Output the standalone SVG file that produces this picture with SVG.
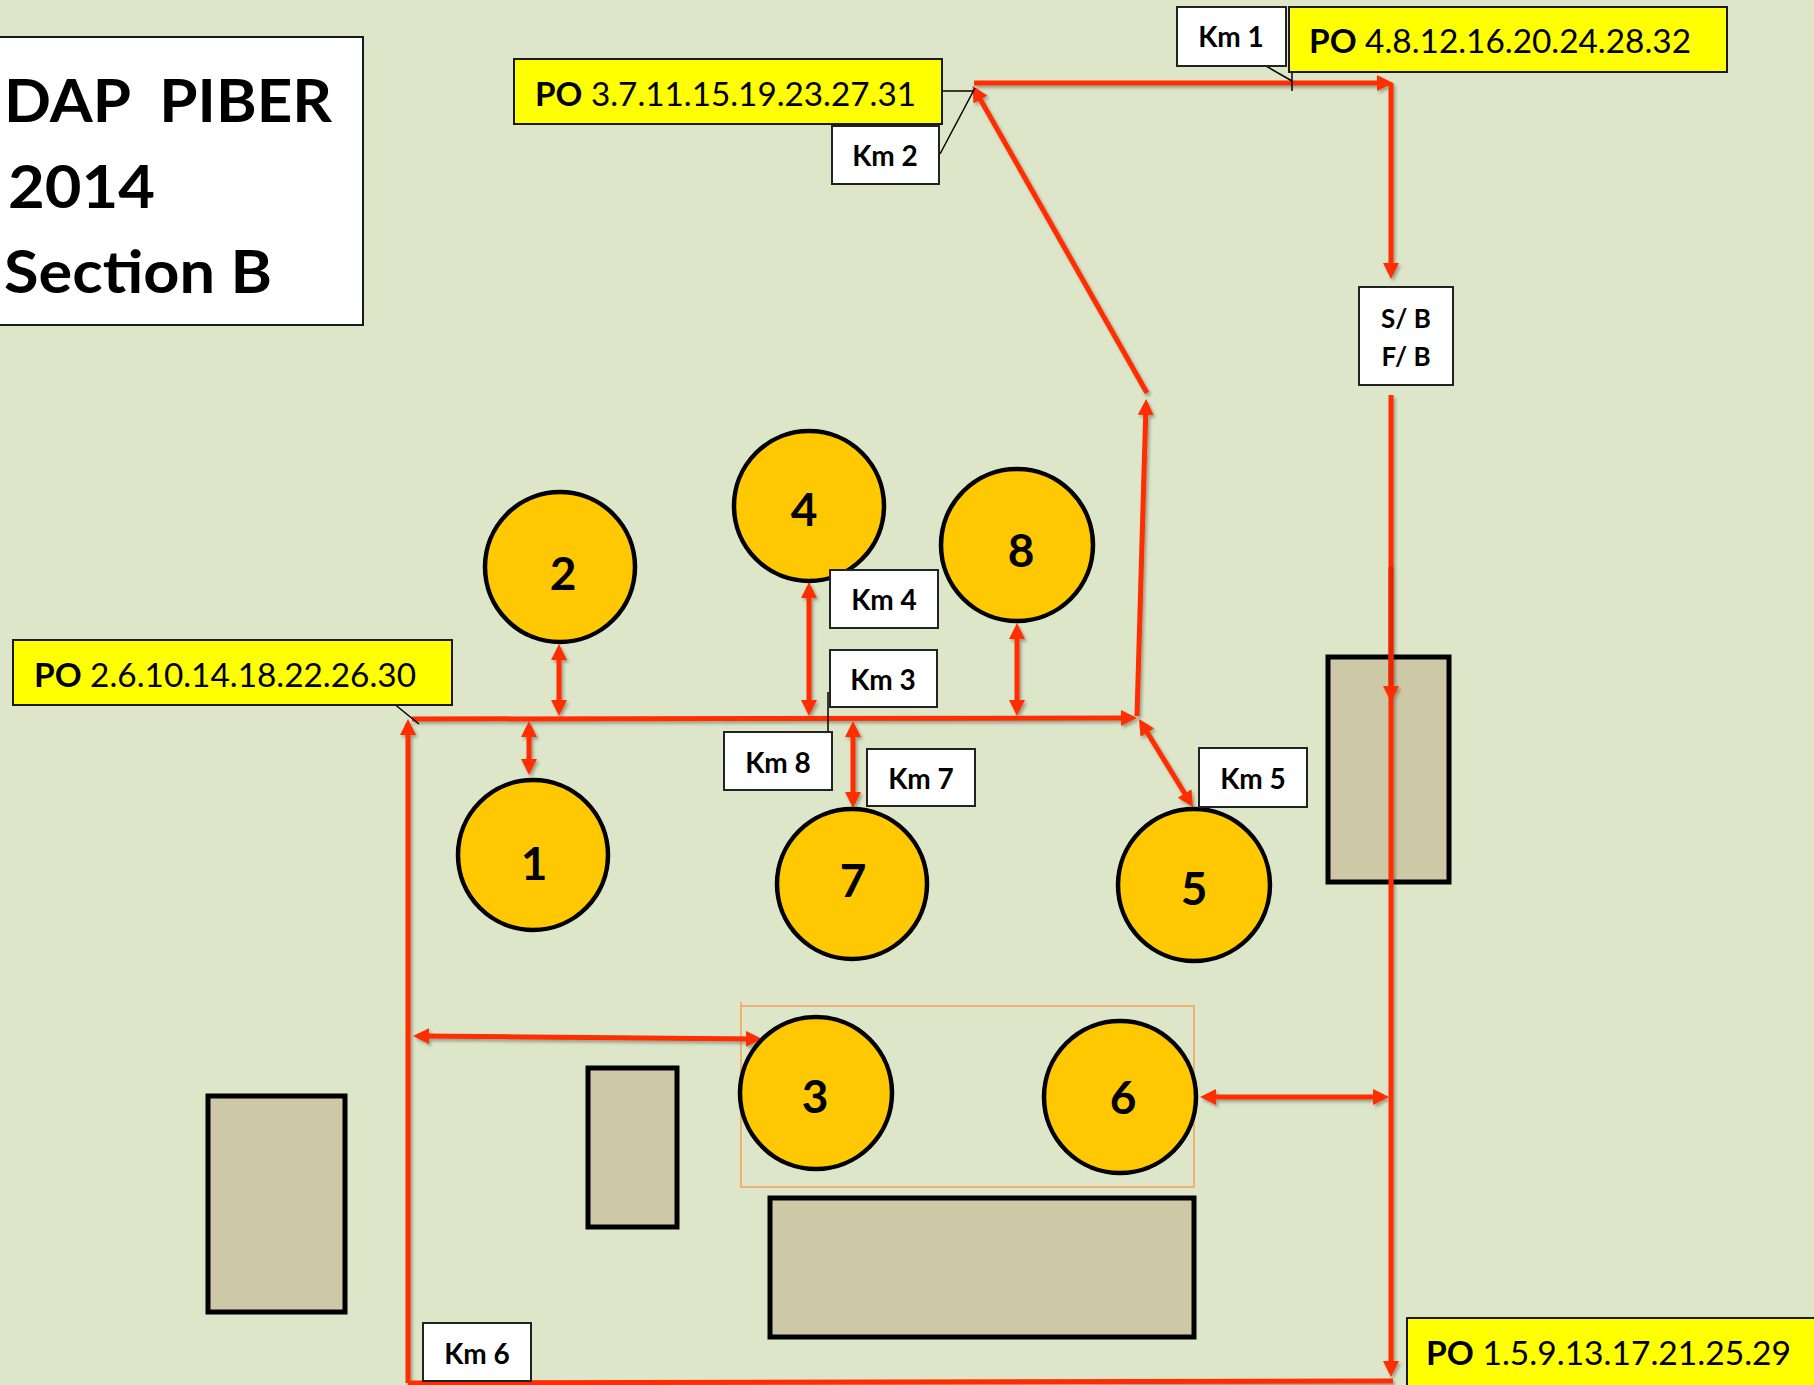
<svg xmlns="http://www.w3.org/2000/svg" width="1814" height="1385" viewBox="0 0 1814 1385">
  <defs>
    <style>
      .bg { fill: #DDE6C9; }
      .bldg rect { fill: #CDC8A6; stroke: #000; stroke-width: 5; }
      .post circle { fill: #FFC800; stroke: #000; stroke-width: 4.5; }
      .post text { font-family: Lato, "Open Sans", sans-serif; font-weight: 700; font-size: 46px; text-anchor: middle; fill: #000; }
      .po rect { fill: #FFFF00; stroke: #1a1a1a; stroke-width: 2; }
      .po text { font-family: Lato, "Open Sans", sans-serif; font-size: 33px; fill: #000; }
      .po tspan.b { font-weight: 700; }
      .km rect { fill: #FFFFFF; stroke: #222; stroke-width: 2; }
      .km text { font-family: Lato, "Open Sans", sans-serif; font-weight: 700; font-size: 28px; text-anchor: middle; fill: #000; }
      .title rect { fill: #FFFFFF; stroke: #1a1a1a; stroke-width: 2; }
      .title text { font-family: Lato, "Open Sans", sans-serif; font-weight: 700; font-size: 60px; text-anchor: end; fill: #000; }
      .leader { stroke: #000; stroke-width: 1.5; fill: none; }
      .route { stroke: #FF2D00; stroke-width: 5; fill: none; }
      .one { marker-end: url(#tip); }
      .two { marker-start: url(#tip); marker-end: url(#tip); }
    </style>
    <marker id="tip" markerUnits="userSpaceOnUse" markerWidth="16" markerHeight="16" refX="11" refY="8" orient="auto-start-reverse" viewBox="0 0 16 16">
      <path d="M0,0 L16,8 L0,16 z" fill="#FF2D00"/>
    </marker>
    <filter id="shade" x="-5%" y="-5%" width="110%" height="110%">
      <feDropShadow dx="2" dy="2.5" stdDeviation="1.5" flood-color="#000" flood-opacity="0.3"/>
    </filter>
  </defs>

  <rect class="bg" x="0" y="0" width="1814" height="1385"/>

  <!-- title panel -->
  <g id="title" class="title">
    <rect x="-10" y="37" width="373" height="288"/>
    <text x="332" y="122" textLength="328" lengthAdjust="spacingAndGlyphs">DAP&#160; PIBER</text>
    <text x="155" y="208" textLength="147" lengthAdjust="spacingAndGlyphs">2014</text>
    <text x="272" y="293" textLength="268" lengthAdjust="spacingAndGlyphs">Section B</text>
  </g>

  <!-- buildings -->
  <g id="bldg-right" class="bldg"><rect x="1328" y="657" width="121" height="225"/></g>
  <g id="bldg-left" class="bldg"><rect x="208" y="1096" width="137" height="216"/></g>
  <g id="bldg-mid" class="bldg"><rect x="588" y="1068" width="89" height="159"/></g>
  <g id="bldg-bottom" class="bldg"><rect x="770" y="1198" width="424" height="139"/></g>

  <!-- grouping frame around posts 3 and 6 -->
  <g id="frame-3-6">
    <rect x="741" y="1006" width="453" height="181" fill="none" stroke="#F5A055" stroke-width="1.5"/>
    <line x1="741" y1="1002" x2="741" y2="1006" stroke="#F5A055" stroke-width="1.5"/>
  </g>

  <!-- route connectors -->
  <g id="connectors" class="route" filter="url(#shade)">
    <path class="one" d="M412,719 L1132,718"/>
    <path class="one" d="M408,1383 L408,724"/>
    <path class="one" d="M1137,716 L1146,404"/>
    <path class="one" d="M1147,393 L975,90"/>
    <path class="one" d="M974,83 L1388,83"/>
    <path class="one" d="M1391,83 L1391,274"/>
    <path class="one" d="M1391,395 L1391,1372"/>
    <path class="one" d="M1391,567 L1391,697" stroke="#E82600"/>
    <path d="M1393,1381 L408,1383"/>
    <path class="two" d="M559,649 L559,711"/>
    <path class="two" d="M529,726 L529,770"/>
    <path class="two" d="M809,587 L809,711"/>
    <path class="two" d="M1017,628 L1017,711"/>
    <path class="two" d="M853,726 L853,803"/>
    <path class="two" d="M1141.6,723.3 L1190.4,802.7"/>
    <path class="two" d="M418,1036 L757,1039"/>
    <path class="two" d="M1205,1097 L1384,1097"/>
  </g>

  <!-- callout leaders -->
  <g id="leaders" class="leader">
    <path d="M942,91 L974,91"/>
    <path d="M940,154 L975,88"/>
    <path d="M1266,66 L1292,81"/>
    <path d="M1292,72 L1292,91"/>
    <path d="M393,703 L419,724"/>
    <path d="M828,692 L828,732"/>
  </g>

  <!-- posts -->
  <g id="post-1" class="post"><circle cx="533" cy="855" r="75"/><text x="534" y="880">1</text></g>
  <g id="post-2" class="post"><circle cx="560" cy="567" r="75"/><text x="563" y="590">2</text></g>
  <g id="post-3" class="post"><circle cx="816" cy="1093" r="76"/><text x="815" y="1113">3</text></g>
  <g id="post-4" class="post"><circle cx="809" cy="506" r="75"/><text x="804" y="526">4</text></g>
  <g id="post-5" class="post"><circle cx="1194" cy="885" r="76"/><text x="1194" y="905">5</text></g>
  <g id="post-6" class="post"><circle cx="1120" cy="1097" r="76" stroke-width="5.5"/><text x="1123" y="1114">6</text></g>
  <g id="post-7" class="post"><circle cx="852" cy="884" r="75"/><text x="853" y="897">7</text></g>
  <g id="post-8" class="post"><circle cx="1017" cy="545" r="76"/><text x="1021" y="567">8</text></g>

  <!-- PO labels -->
  <g id="po-3" class="po">
    <rect x="514" y="59" width="428" height="65"/>
    <text x="535" y="106" textLength="381" lengthAdjust="spacingAndGlyphs"><tspan class="b">PO</tspan> 3.7.11.15.19.23.27.31</text>
  </g>
  <g id="po-4" class="po">
    <rect x="1289" y="7" width="438" height="65"/>
    <text x="1309" y="53" textLength="382" lengthAdjust="spacingAndGlyphs"><tspan class="b">PO</tspan> 4.8.12.16.20.24.28.32</text>
  </g>
  <g id="po-2" class="po">
    <rect x="13" y="640" width="439" height="65"/>
    <text x="34" y="687" textLength="382" lengthAdjust="spacingAndGlyphs"><tspan class="b">PO</tspan> 2.6.10.14.18.22.26.30</text>
  </g>
  <g id="po-1" class="po">
    <rect x="1407" y="1318" width="420" height="80"/>
    <text x="1426" y="1365" textLength="365" lengthAdjust="spacingAndGlyphs"><tspan class="b">PO</tspan> 1.5.9.13.17.21.25.29</text>
  </g>

  <!-- Km markers -->
  <g id="km-1" class="km"><rect x="1177" y="7" width="109" height="59"/><text x="1231" y="47">Km 1</text></g>
  <g id="km-2" class="km"><rect x="832" y="126" width="107" height="58"/><text x="885" y="166">Km 2</text></g>
  <g id="km-3" class="km"><rect x="830" y="650" width="107" height="57"/><text x="883" y="690">Km 3</text></g>
  <g id="km-4" class="km"><rect x="830" y="570" width="108" height="58"/><text x="884" y="610">Km 4</text></g>
  <g id="km-5" class="km"><rect x="1199" y="748" width="108" height="59"/><text x="1253" y="789">Km 5</text></g>
  <g id="km-6" class="km"><rect x="423" y="1323" width="108" height="58"/><text x="477" y="1364">Km 6</text></g>
  <g id="km-7" class="km"><rect x="867" y="749" width="108" height="57"/><text x="921" y="789">Km 7</text></g>
  <g id="km-8" class="km"><rect x="724" y="732" width="108" height="58"/><text x="778" y="773">Km 8</text></g>

  <!-- start/finish box -->
  <g id="start-finish" class="km">
    <rect x="1359" y="287" width="94" height="98"/>
    <text x="1406" y="328" style="font-size:26px">S/ B</text>
    <text x="1406" y="366" style="font-size:26px">F/ B</text>
  </g>
</svg>
